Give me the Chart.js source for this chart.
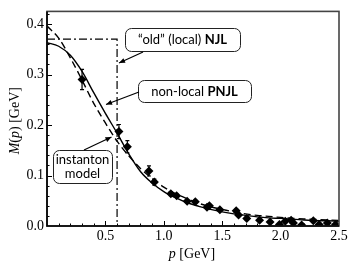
<!DOCTYPE html>
<html><head><meta charset="utf-8">
<script src="https://cdn.jsdelivr.net/npm/chart.js@4"></script>
<style>html,body{margin:0;padding:0;background:#fff}</style>
</head><body>
<canvas id="c" width="354" height="266"></canvas>
<script>
// ---- data ----
const curveP = [0, 0.1, 0.2, 0.3, 0.4, 0.5, 0.6, 0.7, 0.8, 0.9, 1.0, 1.1, 1.2, 1.3, 1.4, 1.5, 1.6, 1.7, 1.8, 1.9, 2.0, 2.2, 2.5];
const pnjlM = [0.363, 0.356, 0.338, 0.306, 0.264, 0.223, 0.184, 0.143, 0.108, 0.085, 0.068, 0.056, 0.046, 0.039, 0.033, 0.028, 0.024, 0.021, 0.018, 0.016, 0.015, 0.012, 0.0095];
const instM = [0.396, 0.372, 0.333, 0.289, 0.243, 0.204, 0.168, 0.139, 0.114, 0.094, 0.077, 0.064, 0.054, 0.045, 0.038, 0.033, 0.028, 0.024, 0.021, 0.019, 0.017, 0.014, 0.011];
const njlP = [0, 0.6, 0.6];
const njlM = [0.37, 0.37, 0];
const latticeP = [0.30, 0.616, 0.688, 0.873, 0.919, 1.06, 1.11, 1.20, 1.27, 1.37, 1.39, 1.48, 1.62, 1.64, 1.71, 1.82, 1.91, 1.99, 2.04, 2.09, 2.11, 2.18, 2.28, 2.33, 2.40, 2.47];
const latticeM = [0.290, 0.187, 0.157, 0.109, 0.087, 0.064, 0.060, 0.049, 0.048, 0.037, 0.040, 0.032, 0.030, 0.022, 0.015, 0.0115, 0.008, 0.003, 0.0096, 0.0115, 0.006, 0.002, 0.0105, 0.003, 0.006, 0.003];
const latticeErr = [0.020, 0.014, 0.012, 0.010, 0.006, 0.004, 0.003, 0.003, 0.003, 0.003, 0.003, 0.003, 0.003, 0.003, 0.003, 0.002, 0.002, 0.002, 0.002, 0.002, 0.002, 0.002, 0.002, 0.002, 0.002, 0.002];
const xMajorTicks = [0.5, 1.0, 1.5, 2.0, 2.5];
const yMajorTicks = [0.0, 0.1, 0.2, 0.3, 0.4];
const xMinorStep = 0.1;
const yMinorStep = 0.02;
const xRange = [0, 2.5];
const yRange = [0, 0.425];

const zip = (a, b) => a.map((v, i) => ({x: v, y: b[i]}));

const serif = '"Liberation Serif", "DejaVu Serif", serif';
const sans = 'Lato, "Open Sans", sans-serif';

const errorBars = {
  id: 'errorBars',
  afterDatasetsDraw(chart) {
    const {ctx, scales: {x, y}} = chart;
    ctx.save();
    ctx.strokeStyle = '#000';
    ctx.lineWidth = 1.2;
    latticeP.forEach((p, i) => {
      const px = x.getPixelForValue(p);
      const y1 = y.getPixelForValue(latticeM[i] + latticeErr[i]);
      const y2 = y.getPixelForValue(latticeM[i] - latticeErr[i]);
      ctx.beginPath();
      ctx.moveTo(px, y1); ctx.lineTo(px, y2);
      ctx.moveTo(px - 2, y1); ctx.lineTo(px + 2, y1);
      ctx.moveTo(px - 2, y2); ctx.lineTo(px + 2, y2);
      ctx.stroke();
    });
    ctx.restore();
  }
};

const frameAndTicks = {
  id: 'frameAndTicks',
  afterDraw(chart) {
    const {ctx, chartArea: a, scales: {x, y}} = chart;
    ctx.save();
    ctx.strokeStyle = '#000';
    ctx.lineWidth = 1;
    ctx.beginPath();
    const nx = Math.round((xRange[1] - xRange[0]) / xMinorStep);
    for (let i = 1; i < nx; i++) {
      const v = xRange[0] + i * xMinorStep;
      const px = Math.round(x.getPixelForValue(v)) + 0.5;
      const major = xMajorTicks.some(t => Math.abs(t - v) < 1e-6);
      ctx.moveTo(px, a.bottom); ctx.lineTo(px, a.bottom - (major ? 5 : 2.5));
    }
    const ny = Math.floor((yRange[1] - yRange[0]) / yMinorStep + 1e-6);
    for (let i = 1; i <= ny; i++) {
      const v = yRange[0] + i * yMinorStep;
      const py = Math.round(y.getPixelForValue(v)) + 0.5;
      const major = yMajorTicks.some(t => Math.abs(t - v) < 1e-6);
      ctx.moveTo(a.left, py); ctx.lineTo(a.left + (major ? 5 : 2.5), py);
    }
    ctx.stroke();
    // frame
    ctx.strokeStyle = '#444';
    ctx.lineWidth = 1.6;
    ctx.strokeRect(a.left, a.top, a.right - a.left, a.bottom - a.top);
    ctx.strokeStyle = '#000';
    ctx.beginPath();
    ctx.moveTo(a.left, a.top); ctx.lineTo(a.left, a.bottom); ctx.lineTo(a.right, a.bottom);
    ctx.stroke();

    // axis titles (mixed italic)
    ctx.fillStyle = '#000';
    ctx.textBaseline = 'alphabetic';
    const drawParts = (parts, cx, cy) => {
      let w = 0;
      parts.forEach(p => { ctx.font = p[1] + ' 14px ' + serif; w += ctx.measureText(p[0]).width; });
      let xx = cx - w / 2;
      parts.forEach(p => { ctx.font = p[1] + ' 14px ' + serif; ctx.fillText(p[0], xx, cy); xx += ctx.measureText(p[0]).width; });
    };
    drawParts([['p', 'italic'], [' [GeV]', 'normal']], (a.left + a.right) / 2 - 1, 258);
    ctx.save();
    ctx.translate(19, (a.top + a.bottom) / 2 + 2);
    ctx.rotate(-Math.PI / 2);
    drawParts([['M', 'italic'], ['(', 'normal'], ['p', 'italic'], [') [GeV]', 'normal']], 0, 0);
    ctx.restore();

    // annotation boxes
    const box = (x0, y0, w, h) => {
      ctx.fillStyle = '#fff';
      ctx.strokeStyle = '#222';
      ctx.lineWidth = 1;
      ctx.beginPath();
      ctx.roundRect(x0 + 0.5, y0 + 0.5, w, h, 6);
      ctx.fill(); ctx.stroke();
    };
    const arrow = (x0, y0, x1, y1) => {
      ctx.strokeStyle = '#000';
      ctx.fillStyle = '#000';
      ctx.lineWidth = 1.2;
      ctx.beginPath(); ctx.moveTo(x0, y0); ctx.lineTo(x1, y1); ctx.stroke();
      const ang = Math.atan2(y1 - y0, x1 - x0);
      const L = 6, W = 2.6;
      ctx.beginPath();
      ctx.moveTo(x1, y1);
      ctx.lineTo(x1 - L * Math.cos(ang) + W * Math.sin(ang), y1 - L * Math.sin(ang) - W * Math.cos(ang));
      ctx.lineTo(x1 - L * Math.cos(ang) - W * Math.sin(ang), y1 - L * Math.sin(ang) + W * Math.cos(ang));
      ctx.closePath(); ctx.fill();
    };
    const textParts = (parts, cx, cy) => {
      let w = 0;
      parts.forEach(p => { ctx.font = p[1] + ' 13px ' + sans; w += ctx.measureText(p[0]).width; });
      let xx = cx - w / 2;
      ctx.fillStyle = '#000';
      ctx.textBaseline = 'middle';
      parts.forEach(p => { ctx.font = p[1] + ' 13px ' + sans; ctx.fillText(p[0], xx, cy); xx += ctx.measureText(p[0]).width; });
    };
    box(125, 28, 115, 23);
    textParts([['\u201cold\u201d (local) ', 'normal'], ['NJL', 'bold']], 182.5, 40);
    arrow(143, 52, 119, 63);
    box(138, 80, 113, 22);
    textParts([['non-local ', 'normal'], ['PNJL', 'bold']], 194.5, 91.5);
    arrow(139, 92, 106, 104.5);
    box(53, 150, 59, 33);
    textParts([['instanton', 'normal']], 82.5, 159.5);
    textParts([['model', 'normal']], 82.5, 174);
    arrow(84, 150, 111.5, 137);
    ctx.restore();
  }
};

new Chart(document.getElementById('c'), {
  type: 'scatter',
  data: {
    datasets: [
      { data: zip(curveP, pnjlM), showLine: true, borderColor: '#000', borderWidth: 1.4, pointRadius: 0, cubicInterpolationMode: 'monotone', fill: false },
      { data: zip(curveP, instM), showLine: true, borderColor: '#000', borderWidth: 1.4, borderDash: [7, 4], pointRadius: 0, cubicInterpolationMode: 'monotone', fill: false },
      { data: zip(njlP, njlM), showLine: true, borderColor: '#000', borderWidth: 1.2, borderDash: [8, 3, 2, 3], pointRadius: 0, tension: 0, fill: false },
      { data: zip(latticeP, latticeM), showLine: false, pointStyle: 'rectRot', pointRadius: 4.5, backgroundColor: '#000', borderColor: '#000', borderWidth: 0 }
    ]
  },
  options: {
    responsive: false,
    animation: false,
    devicePixelRatio: 1,
    layout: { padding: { top: 5, right: 15, left: 0, bottom: 0 } },
    plugins: { legend: { display: false }, tooltip: { enabled: false } },
    scales: {
      x: {
        type: 'linear', min: xRange[0], max: xRange[1],
        afterFit(s) { s.height = 40; },
        grid: { display: false, drawTicks: false },
        border: { display: false },
        ticks: {
          stepSize: 0.5, padding: 2, color: '#000', maxRotation: 0,
          font: { family: serif, size: 14 },
          callback: v => xMajorTicks.some(t => Math.abs(t - v) < 1e-6) ? v.toFixed(1) : ''
        }
      },
      y: {
        type: 'linear', min: yRange[0], max: yRange[1],
        afterFit(s) { s.width = 47; },
        grid: { display: false, drawTicks: false },
        border: { display: false },
        ticks: {
          stepSize: 0.1, includeBounds: false, padding: 3, color: '#000',
          font: { family: serif, size: 14 },
          callback: v => yMajorTicks.some(t => Math.abs(t - v) < 1e-6) ? v.toFixed(1) : ''
        }
      }
    }
  },
  plugins: [errorBars, frameAndTicks]
});
</script>
</body></html>
